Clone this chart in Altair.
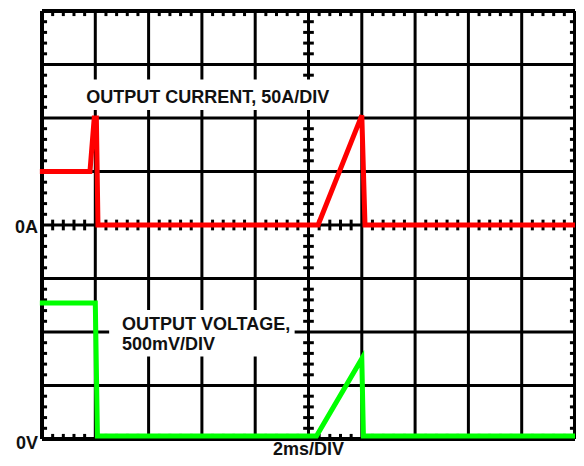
import altair as alt
import pandas as pd

# ---- data (time in 2 ms divisions, amplitude in screen divisions) ----
current_t = [-0.04, 0.90, 0.98, 1.02, 1.05, 5.18, 6.00, 6.06, 10.0]
current_y = [5.0, 5.0, 6.0, 6.0, 4.0, 4.0, 6.05, 4.0, 4.0]
voltage_t = [-0.04, 1.00, 1.04, 5.15, 6.00, 6.03, 10.0]
voltage_y = [2.54, 2.54, 0.055, 0.055, 1.50, 0.055, 0.055]

n_x_div = 10
n_y_div = 8

label_text = ["OUTPUT CURRENT, 50A/DIV", "OUTPUT VOLTAGE,", "500mV/DIV"]
label_x = [0.83, 1.5, 1.5]
label_y = [6.28, 2.04, 1.67]

axis_text = ["0A", "0V"]
axis_x = [-0.074, -0.074]
axis_y = [3.85, -0.185]

xlabel_text = ["2ms/DIV"]
xlabel_x = [5.0]
xlabel_y = [-0.29]

box_x1 = [0.74, 1.26]
box_x2 = [5.61, 4.74]
box_y1 = [6.15, 1.54]
box_y2 = [6.72, 2.41]

W, H = 533, 428
FONT = "Liberation Sans"

xs = alt.Scale(domain=[0, n_x_div], nice=False, zero=False)
ys = alt.Scale(domain=[0, n_y_div], nice=False, zero=False)

# ---- grid ----
grid_rows = []
for i in range(1, n_x_div):
    grid_rows.append(dict(x1=i, x2=i, y1=0, y2=n_y_div))
for j in range(1, n_y_div):
    grid_rows.append(dict(x1=0, x2=n_x_div, y1=j, y2=j))
grid_df = pd.DataFrame(grid_rows)

border_df = pd.DataFrame([
    dict(x1=0, x2=0, y1=0, y2=n_y_div),
    dict(x1=n_x_div, x2=n_x_div, y1=0, y2=n_y_div),
    dict(x1=0, x2=n_x_div, y1=0, y2=0),
    dict(x1=0, x2=n_x_div, y1=n_y_div, y2=n_y_div),
])

minor = [k / 5 for k in range(1, 5)]
LY = 0.095
LX = 0.095
C = 0.1
tick_rows = []
cx, cy = n_x_div / 2, n_y_div / 2
for d in range(n_x_div):
    for m in minor:
        x = d + m
        tick_rows.append(dict(x1=x, x2=x, y1=0, y2=LY))
        tick_rows.append(dict(x1=x, x2=x, y1=n_y_div - LY, y2=n_y_div))
        tick_rows.append(dict(x1=x, x2=x, y1=cy - C, y2=cy + C))
for d in range(n_y_div):
    for m in minor:
        y = d + m
        tick_rows.append(dict(x1=0, x2=LX, y1=y, y2=y))
        tick_rows.append(dict(x1=n_x_div - LX, x2=n_x_div, y1=y, y2=y))
        tick_rows.append(dict(x1=cx - C, x2=cx + C, y1=y, y2=y))
tick_df = pd.DataFrame(tick_rows)


def rules(df, width):
    return alt.Chart(df).mark_rule(color="black", strokeWidth=width, clip=False).encode(
        x=alt.X("x1:Q", scale=xs, axis=None),
        x2="x2:Q",
        y=alt.Y("y1:Q", scale=ys, axis=None),
        y2="y2:Q",
    )


grid = rules(grid_df, 3)
border = rules(border_df, 4)
ticks = rules(tick_df, 3)

box_df = pd.DataFrame(dict(x1=box_x1, x2=box_x2, y1=box_y1, y2=box_y2))
boxes = alt.Chart(box_df).mark_rect(color="white").encode(
    x=alt.X("x1:Q", scale=xs, axis=None),
    x2="x2:Q",
    y=alt.Y("y1:Q", scale=ys, axis=None),
    y2="y2:Q",
)

cur_df = pd.DataFrame(dict(t=current_t, v=current_y, o=list(range(len(current_t)))))
vol_df = pd.DataFrame(dict(t=voltage_t, v=voltage_y, o=list(range(len(voltage_t)))))


def trace(df, color):
    return alt.Chart(df).mark_line(color=color, strokeWidth=5, clip=False, strokeJoin="miter").encode(
        x=alt.X("t:Q", scale=xs, axis=None),
        y=alt.Y("v:Q", scale=ys, axis=None),
        order="o:Q",
    )


red = trace(cur_df, "#ff0000")
green = trace(vol_df, "#00ff00")


def texts(xv, yv, tv, align):
    df = pd.DataFrame(dict(x=xv, y=yv, label=tv))
    return alt.Chart(df).mark_text(
        font=FONT, fontSize=18, fontWeight="bold", color="#111111",
        align=align, baseline="alphabetic", clip=False,
    ).encode(
        x=alt.X("x:Q", scale=xs, axis=None),
        y=alt.Y("y:Q", scale=ys, axis=None),
        text="label:N",
    )


labels = texts(label_x, label_y, label_text, "left")
axis_labels = texts(axis_x, axis_y, axis_text, "right")
xlabel = texts(xlabel_x, xlabel_y, xlabel_text, "center")

chart = alt.layer(grid, ticks, boxes, border, red, green, labels, axis_labels, xlabel).properties(
    width=W, height=H,
    autosize=alt.AutoSizeParams(type="none"),
    padding={"left": 34, "top": 3, "right": 1, "bottom": 19},
    background="white",
).configure_view(strokeWidth=0)

chart.save("out.html", embed_options={"renderer": "svg", "actions": False})
